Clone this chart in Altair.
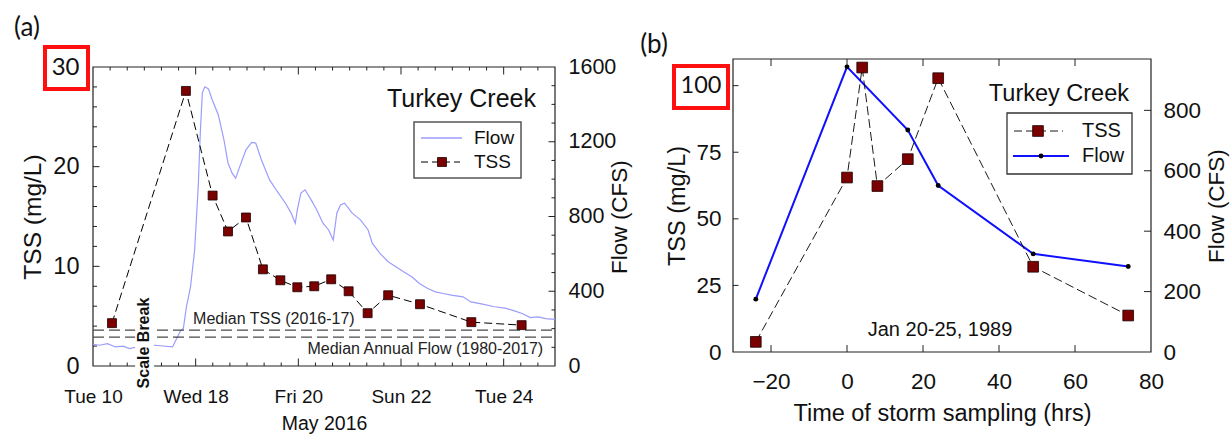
import altair as alt
import pandas as pd

FONT = "Liberation Sans"
ALT_FONT = "Lato"

# ---------------- Panel (a): Turkey Creek, May 2016 ----------------
# time stamps are fractional days of May 2016; the axis has a scale break after May 11
flow_a_day = [10.00, 10.13, 10.28, 10.44, 10.59, 10.71, 10.86,
              17.21, 17.36, 17.55, 17.63, 17.71, 17.76, 17.82, 17.90, 17.98,
              18.05, 18.09, 18.13, 18.18, 18.25, 18.32, 18.44, 18.55, 18.63,
              18.71, 18.78, 18.86, 18.98, 19.09, 19.17, 19.28, 19.44, 19.59,
              19.75, 19.86, 19.94, 19.98, 20.05, 20.13, 20.25, 20.36, 20.48,
              20.59, 20.68, 20.75, 20.82, 20.90, 21.05, 21.21, 21.36, 21.44,
              21.59, 21.75, 21.90, 22.05, 22.21, 22.36, 22.52, 22.67, 22.82,
              22.98, 23.21, 23.36, 23.59, 23.82, 24.05, 24.21, 24.36, 24.52,
              24.67, 24.82, 25.00]
flow_a_cfs = [116, 111, 120, 102, 106, 93, 102,
              111, 107, 102, 147, 191, 200, 317, 424, 621,
              961, 1247, 1462, 1494, 1483, 1426, 1345, 1211, 1086,
              1032, 1005, 1068, 1157, 1197, 1193, 1104, 996, 934,
              871, 818, 764, 835, 925, 943, 889, 835, 764,
              728, 674, 818, 862, 871, 818, 782, 728, 657,
              603, 558, 531, 504, 478, 442, 415, 397, 388,
              379, 370, 343, 331, 317, 308, 295, 281, 259,
              263, 254, 249]
tss_a_day = [10.37, 17.81, 18.33, 18.63, 18.98, 19.31, 19.65, 19.98,
             20.31, 20.64, 20.98, 21.35, 21.75, 22.37, 23.37, 24.35]
tss_a_mg = [4.3, 27.6, 17.1, 13.5, 14.9, 9.7, 8.6, 7.9,
            8.0, 8.7, 7.5, 5.3, 7.1, 6.2, 4.4, 4.1]
median_tss_mg = 3.6        # Median TSS (2016-17)
median_flow_cfs = 155      # Median Annual Flow (1980-2017)
a_tick_days = [10, 18, 20, 22, 24]
a_tick_labels = ["Tue 10", "Wed 18", "Fri 20", "Sun 22", "Tue 24"]
a_tss_ticks = [0, 10, 20, 30]
a_flow_ticks = [0, 400, 800, 1200, 1600]

# ---------------- Panel (b): Jan 20-25, 1989 ----------------
tss_b_hr = [-24, 0, 4, 8, 16, 24, 49, 74]
tss_b_mg = [3.8, 65.5, 106.8, 62.3, 72.4, 102.8, 32.0, 13.7]
flow_b_hr = [-24, 0, 16, 24, 49, 74]
flow_b_cfs = [175, 944, 735, 551, 325, 283]
b_x_ticks = [-20, 0, 20, 40, 60, 80]
b_tss_ticks = [0, 25, 50, 75, 100]
b_flow_ticks = [0, 200, 400, 600, 800]


def axis_pos(day):
    """Position on the broken time axis (days after Tue 10, break after May 11)."""
    return day - 10 if day < 12 else day - 16


df_flow_a = pd.DataFrame({"pos": [axis_pos(d) for d in flow_a_day], "cfs": flow_a_cfs})
df_tss_a = pd.DataFrame({"pos": [axis_pos(d) for d in tss_a_day], "tss": tss_a_mg})
df_tss_b = pd.DataFrame({"hr": tss_b_hr, "tss": tss_b_mg})
df_flow_b = pd.DataFrame({"hr": flow_b_hr, "cfs": flow_b_cfs})
one = pd.DataFrame({"k": [0]})

W, H = 1058, 307


def sc(domain, rng):
    return alt.Scale(domain=domain, range=rng, nice=False, zero=False)


XA = sc([0, 9], [0, 462])
YA_T = sc([0, 30], [307, 8])
YA_F = sc([0, 1600], [307, 8])
XB = sc([-30, 80], [640, 1058])
YB_T = sc([0, 110], [293, 0])
YB_F = sc([0, 970], [293, 0])


def axis(orient, values, title, lsize, tsize, lpad, tx=None, ty=None, offset=0,
         angle=None, expr=None, lfont=FONT, lfsize=None):
    kw = dict(orient=orient, values=values, title=title, labelFont=lfont,
              labelFontSize=lfsize if lfsize is not None else lsize,
              labelColor="#111", labelPadding=lpad, titleFont=FONT,
              titleFontSize=tsize, titleFontWeight="normal", titleColor="#111",
              ticks=False, domain=False, grid=False, labelFlush=False,
              labelOverlap=False, offset=offset, titleBaseline="alphabetic",
              titleAlign="center", format="d")
    if tx is not None:
        kw["titleX"] = tx
    if ty is not None:
        kw["titleY"] = ty
    if angle is not None:
        kw["titleAngle"] = angle
    if expr is not None:
        kw["labelExpr"] = expr
    return alt.Axis(**kw)


def frame(xs, ys, x0, x1, y0, y1):
    d = pd.DataFrame({"x0": [x0], "x1": [x1], "y0": [y0], "y1": [y1]})
    return alt.Chart(d).mark_rect(fillOpacity=0, stroke="#222", strokeWidth=1.2).encode(
        x=alt.X("x0:Q", scale=xs, axis=None), x2="x1:Q",
        y=alt.Y("y0:Q", scale=ys, axis=None), y2="y1:Q")


def xticks(vals, xs, y0, y1):
    return alt.Chart(pd.DataFrame({"v": vals})).mark_rule(color="#222", strokeWidth=1).encode(
        x=alt.X("v:Q", scale=xs, axis=None), y=alt.value(y0), y2=alt.value(y1))


def yticks(vals, ys, x0, x1):
    return alt.Chart(pd.DataFrame({"v": vals})).mark_rule(color="#222", strokeWidth=1).encode(
        y=alt.Y("v:Q", scale=ys, axis=None), x=alt.value(x0), x2=alt.value(x1))


def txt(s, x, y, size, font=FONT, color="#111", **kw):
    return alt.Chart(one).mark_text(text=s, fontSize=size, font=font, color=color, **kw).encode(
        x=alt.value(x), y=alt.value(y))


def box(x0, x1, y0, y1, stroke, sw, fill=None):
    props = dict(stroke=stroke, strokeWidth=sw)
    if fill is None:
        props["fillOpacity"] = 0
    else:
        props["fill"] = fill
    return alt.Chart(one).mark_rect(**props).encode(
        x=alt.value(x0), x2=alt.value(x1), y=alt.value(y0), y2=alt.value(y1))


def seg(x0, x1, y, color, sw, dash=None):
    props = dict(color=color, strokeWidth=sw)
    if dash is not None:
        props["strokeDash"] = dash
    return alt.Chart(one).mark_rule(**props).encode(
        x=alt.value(x0), x2=alt.value(x1), y=alt.value(y))


# ---------- labels ----------
a_pos = [axis_pos(d) for d in a_tick_days]
a_expr = " : ".join(f"datum.value == {p} ? '{l}'" for p, l in zip(a_pos, a_tick_labels)) + " : ''"

layers = []

# ================= Panel (a) =================
layers.append(frame(XA, YA_T, 0, 9, 0, 30))
minor_a = [k / 3 for k in range(1, 27) if k % 6 != 0]
layers += [xticks(a_pos[1:], XA, 307, 299.5), xticks(a_pos[1:], XA, 8, 15.5),
           xticks(minor_a, XA, 307, 303.5), xticks(minor_a, XA, 8, 11.5)]
layers += [yticks([10, 20], YA_T, 0, 6.5),
           yticks([v for v in range(2, 30, 2) if v % 10 != 0], YA_T, 0, 4),
           yticks([400, 800, 1200], YA_F, 462, 455.5),
           yticks([v for v in range(100, 1600, 100) if v % 400 != 0], YA_F, 462, 458.5)]

layers.append(alt.Chart(df_flow_a).mark_line(color="#9c9cff", strokeWidth=1.2).encode(
    x=alt.X("pos:Q", scale=XA, axis=None),
    y=alt.Y("cfs:Q", scale=YA_F,
            axis=axis("right", a_flow_ticks, "Flow (CFS)", 21.5, 22.5, 13,
                      tx=71, offset=-596, angle=270))))

# median lines
med_t = pd.DataFrame({"x0": [0], "x1": [9], "y": [median_tss_mg]})
med_f = pd.DataFrame({"x0": [0], "x1": [9], "y": [median_flow_cfs]})
layers.append(alt.Chart(med_t).mark_rule(color="#4a4a4a", strokeWidth=1.3, strokeDash=[11, 5]).encode(
    x=alt.X("x0:Q", scale=XA, axis=None), x2="x1:Q", y=alt.Y("y:Q", scale=YA_T, axis=None)))
layers.append(alt.Chart(med_f).mark_rule(color="#4a4a4a", strokeWidth=1.3, strokeDash=[11, 5]).encode(
    x=alt.X("x0:Q", scale=XA, axis=None), x2="x1:Q", y=alt.Y("y:Q", scale=YA_F, axis=None)))
med_lab = pd.DataFrame({"x": [1.95], "y": [4.7], "t": ["Median TSS (2016-17)"]})
layers.append(alt.Chart(med_lab).mark_text(align="left", fontSize=16, font=FONT, color="#222").encode(
    x=alt.X("x:Q", scale=XA, axis=None), y=alt.Y("y:Q", scale=YA_T, axis=None), text="t:N"))
med_lab2 = pd.DataFrame({"x": [8.77], "y": [1.7], "t": ["Median Annual Flow (1980-2017)"]})
layers.append(alt.Chart(med_lab2).mark_text(align="right", fontSize=16, font=FONT, color="#222").encode(
    x=alt.X("x:Q", scale=XA, axis=None), y=alt.Y("y:Q", scale=YA_T, axis=None), text="t:N"))

# TSS (a)
layers.append(alt.Chart(df_tss_a).mark_line(color="black", strokeWidth=1, strokeDash=[8, 4]).encode(
    x=alt.X("pos:Q", scale=XA,
            axis=axis("bottom", a_pos, "May 2016", 19, 19.5, 21, ty=63, expr=a_expr)),
    y=alt.Y("tss:Q", scale=YA_T,
            axis=axis("left", a_tss_ticks, "TSS (mg/L)", 23.5, 24.5, 14, tx=-52.5, angle=270,
                      lfont=alt.condition("datum.value == 30", alt.value(ALT_FONT), alt.value(FONT)),
                      lfsize=alt.condition("datum.value == 30", alt.value(24), alt.value(23.5))))))
layers.append(alt.Chart(df_tss_a).mark_square(size=80, fill="#7b0000", stroke="#1a0000",
                                               strokeWidth=0.8, opacity=1).encode(
    x=alt.X("pos:Q", scale=XA, axis=None), y=alt.Y("tss:Q", scale=YA_T, axis=None)))

# scale break
brk = pd.DataFrame({"x0": [0.82], "x1": [1.19], "y0": [-2.4], "y1": [6.8]})
layers.append(alt.Chart(brk).mark_rect(fill="white", stroke="white", strokeWidth=0).encode(
    x=alt.X("x0:Q", scale=XA, axis=None), x2="x1:Q",
    y=alt.Y("y0:Q", scale=YA_T, axis=None), y2="y1:Q"))
brk_t = pd.DataFrame({"x": [1.0], "y": [2.3], "t": ["Scale Break"]})
layers.append(alt.Chart(brk_t).mark_text(angle=270, fontSize=16, fontWeight="bold", font=FONT,
                                         color="#111").encode(
    x=alt.X("x:Q", scale=XA, axis=None), y=alt.Y("y:Q", scale=YA_T, axis=None), text="t:N"))

# annotations (a)
layers.append(txt("Turkey Creek", 443, 48, 25, align="right", baseline="alphabetic"))
layers.append(box(321, 428, 63, 119, "#555", 1.5, fill="white"))
layers.append(seg(328, 369, 79, "#9c9cff", 1.3))
layers.append(txt("Flow", 381, 79, 19, align="left"))
layers.append(seg(328, 367, 103, "black", 1, dash=[7, 4]))
layers.append(alt.Chart(one).mark_square(size=80, fill="#7b0000", stroke="#1a0000", strokeWidth=0.8,
                                         opacity=1).encode(x=alt.value(349), y=alt.value(103)))
layers.append(txt("TSS", 381, 103, 19, align="left"))
layers.append(box(-48, -5, -12, 30, "#ff1010", 4))
layers.append(txt("(a)", -66, -31, 26, font=ALT_FONT))

# ================= Panel (b) =================
layers.append(frame(XB, YB_T, -30, 80, 0, 110))
layers += [xticks(b_x_ticks[:-1], XB, 293, 286), xticks(b_x_ticks[:-1], XB, 0, 7),
           yticks(b_tss_ticks[1:], YB_T, 640, 645.5),
           yticks(b_flow_ticks[1:], YB_F, 1058, 1051)]

layers.append(alt.Chart(df_flow_b).mark_line(color="#1010ff", strokeWidth=2).encode(
    x=alt.X("hr:Q", scale=XB, axis=None),
    y=alt.Y("cfs:Q", scale=YB_F,
            axis=axis("right", b_flow_ticks, "Flow (CFS)", 22.5, 22.5, 12, tx=72, angle=270))))
layers.append(alt.Chart(df_flow_b).mark_circle(size=24, color="black", opacity=1).encode(
    x=alt.X("hr:Q", scale=XB, axis=None), y=alt.Y("cfs:Q", scale=YB_F, axis=None)))

layers.append(alt.Chart(df_tss_b).mark_line(color="black", strokeWidth=0.9, strokeDash=[9, 4]).encode(
    x=alt.X("hr:Q", scale=XB,
            axis=axis("bottom", b_x_ticks, "Time of storm sampling (hrs)", 22.5, 23.5, 18,
                      ty=68, offset=-14)),
    y=alt.Y("tss:Q", scale=YB_T,
            axis=axis("left", b_tss_ticks, "TSS (mg/L)", 22.5, 23.5, 12, tx=-49, offset=-640,
                      angle=270,
                      lfont=alt.condition("datum.value == 100", alt.value(ALT_FONT), alt.value(FONT)),
                      lfsize=alt.condition("datum.value == 100", alt.value(23.5), alt.value(22.5))))))
layers.append(alt.Chart(df_tss_b).mark_square(size=115, fill="#7b0000", stroke="#1a0000",
                                               strokeWidth=0.8, opacity=1).encode(
    x=alt.X("hr:Q", scale=XB, axis=None), y=alt.Y("tss:Q", scale=YB_T, axis=None)))

# annotations (b)
layers.append(txt("Turkey Creek", 1036, 42, 23.5, align="right", baseline="alphabetic"))
layers.append(box(914, 1039, 54, 115, "#333", 1.3, fill="white"))
layers.append(seg(921, 970, 72, "black", 0.9, dash=[8, 4]))
layers.append(alt.Chart(one).mark_square(size=115, fill="#7b0000", stroke="#1a0000", strokeWidth=0.8,
                                         opacity=1).encode(x=alt.value(945), y=alt.value(72)))
layers.append(txt("TSS", 989, 72, 20, align="left"))
layers.append(seg(920, 976, 97, "#1010ff", 2))
layers.append(alt.Chart(one).mark_circle(size=24, color="black", opacity=1).encode(
    x=alt.value(948), y=alt.value(97)))
layers.append(txt("Flow", 989, 97, 20, align="left"))
layers.append(txt("Jan 20-25, 1989", 847, 271, 20))
layers.append(box(581, 635, 7, 49, "#ff1010", 4))
layers.append(txt("(b)", 561, -14.5, 26, font=ALT_FONT))

chart = alt.layer(*layers).resolve_scale(x="independent", y="independent").properties(
    width=W, height=H,
    padding={"left": 93, "top": 59, "right": 1230 - 93 - W, "bottom": 437 - 59 - H},
    autosize=alt.AutoSizeParams(type="none"),
    background="white",
).configure_view(stroke=None)

chart.save("out.html", embed_options={"renderer": "svg", "actions": False})
